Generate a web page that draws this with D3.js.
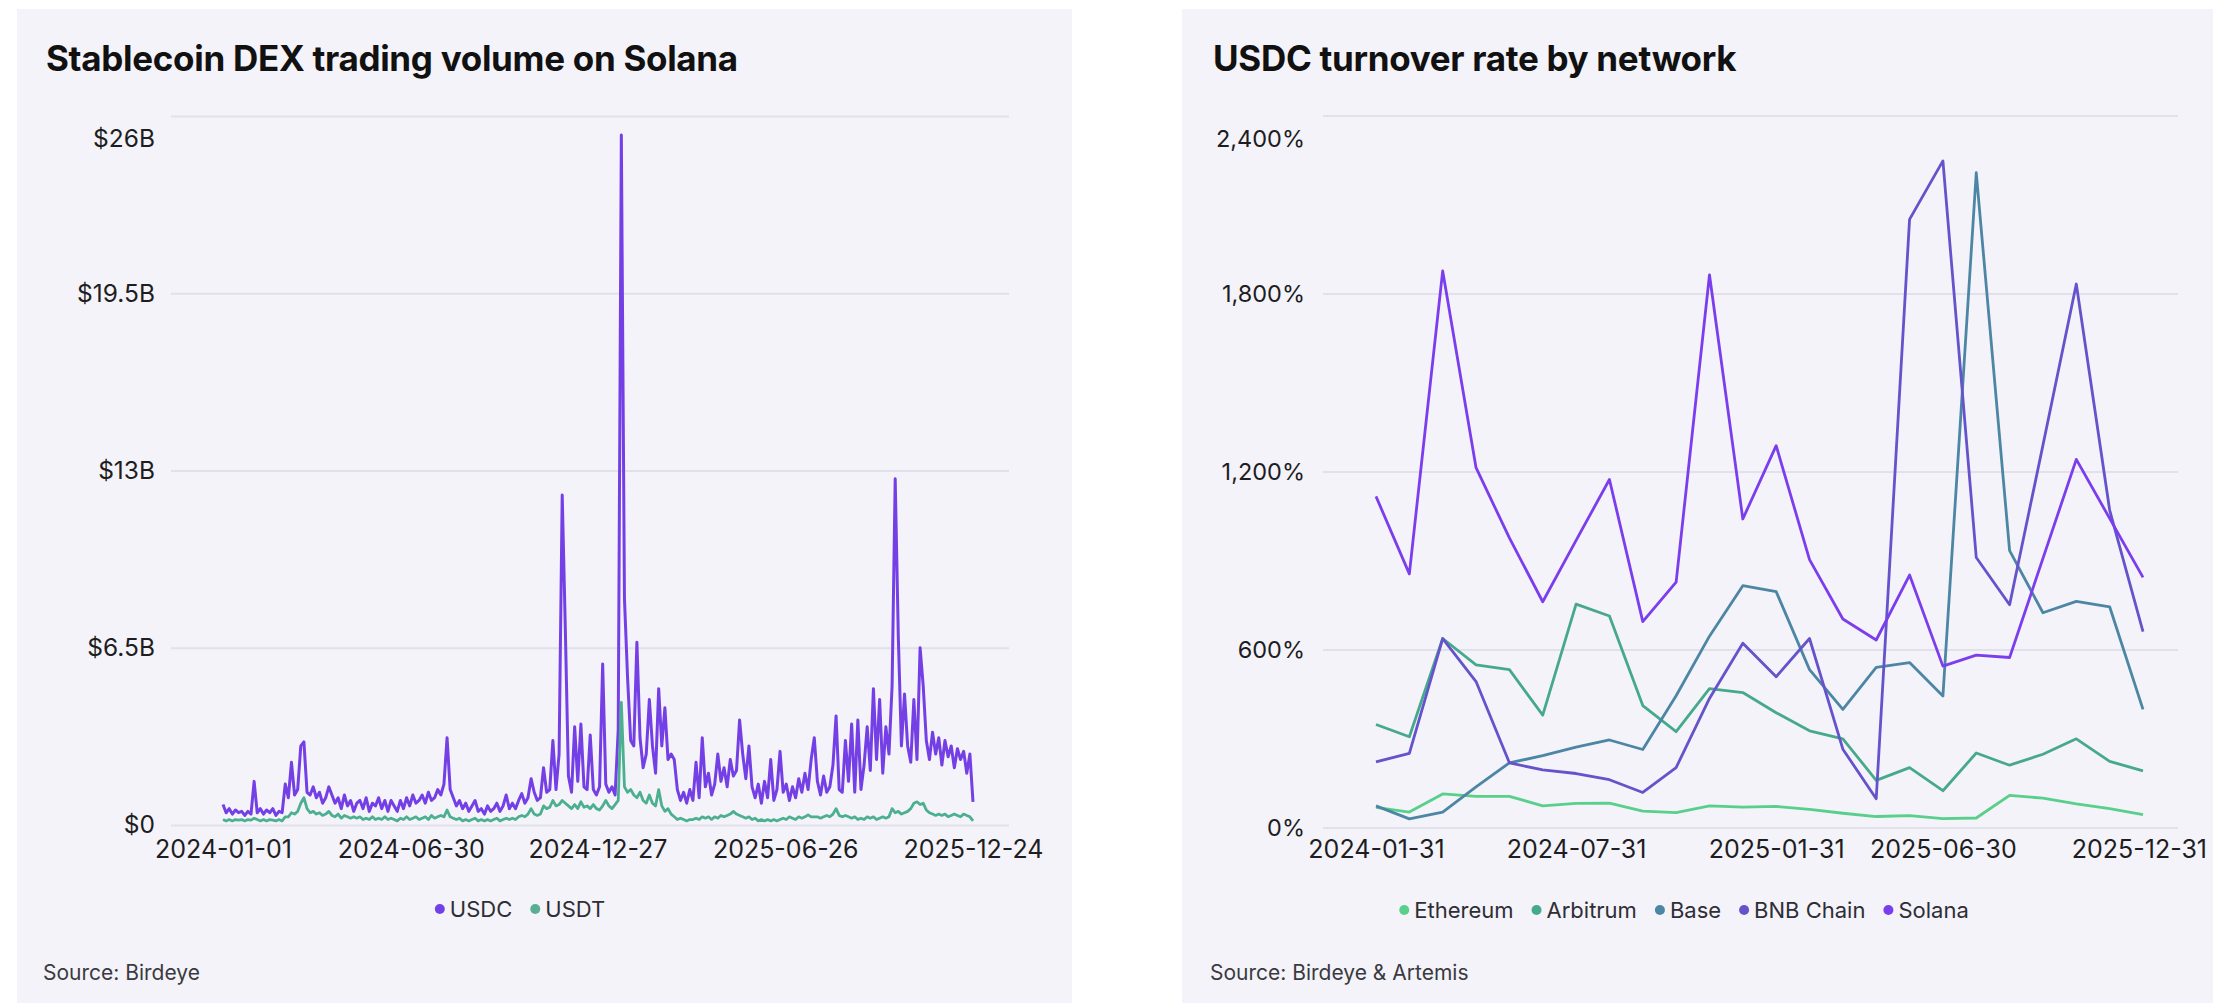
<!DOCTYPE html>
<html><head><meta charset="utf-8">
<script src="https://cdn.jsdelivr.net/npm/d3@7"></script>
<style>
html,body{margin:0;padding:0;background:#fff;}
svg{display:block;font-family:Inter,"Noto Sans",sans-serif;}
</style></head><body>
<svg id="c" width="2213" height="1003"></svg>
<script>
// ---------- Left chart data: Stablecoin DEX trading volume on Solana (USD billions, every 3 days from 2024-01-01)
const volumeStart = "2024-01-01";
const volumeStepDays = 3;
const usdcValues = [
0.75,0.45,0.6,0.4,0.55,0.45,0.5,0.35,0.5,0.4,
1.6,0.45,0.6,0.4,0.55,0.45,0.6,0.35,0.5,0.45,
1.5,1.0,2.3,1.1,1.3,2.9,3.05,1.2,1.1,1.4,
1.0,1.2,0.8,1.0,1.4,1.1,0.8,1.0,0.6,1.1,
0.7,0.9,0.5,0.8,0.9,0.6,1.0,0.5,0.8,0.7,
1.0,0.6,0.9,0.5,0.9,0.7,0.5,0.9,0.6,1.0,
0.7,1.1,0.8,0.9,1.1,0.8,1.2,0.9,1.0,1.3,
1.1,1.5,3.2,1.3,1.0,0.7,0.9,0.6,0.8,0.5,
0.7,0.9,0.5,0.6,0.4,0.7,0.5,0.6,0.8,0.5,
0.7,1.1,0.6,0.8,0.6,0.9,1.15,0.8,1.0,1.7,
1.2,0.9,1.0,2.1,1.2,1.3,3.1,1.3,2.6,12.1,
7.2,1.8,1.2,3.6,1.6,3.7,1.4,1.3,3.3,1.3,
1.1,1.4,5.9,1.5,1.2,1.4,1.1,3.5,25.3,8.3,
5.4,3.1,2.9,6.7,3.2,2.1,2.6,4.6,2.9,1.9,
5.0,2.9,4.3,2.4,2.6,2.4,1.3,0.9,1.2,0.8,
1.3,0.9,2.3,1.0,3.2,1.4,1.9,1.1,1.5,2.6,
1.6,2.1,1.4,2.4,1.8,2.0,3.85,2.6,1.7,2.9,
1.4,1.0,1.5,0.8,1.6,1.0,2.4,0.9,1.3,2.7,
1.2,1.5,0.9,1.4,1.0,1.7,1.2,1.9,1.3,2.4,
3.2,1.6,1.1,1.8,1.2,1.4,2.2,4.0,1.3,1.2,
3.1,1.6,3.7,1.2,3.85,1.3,2.2,3.6,2.0,5.0,
2.4,4.6,1.9,3.6,2.6,5.1,12.7,6.9,2.9,4.8,
2.9,2.3,4.6,2.4,6.5,5.1,3.1,2.4,3.4,2.6,
3.2,2.2,3.1,2.5,2.9,2.1,2.8,2.4,2.7,1.9,
2.6,0.85];
const usdtValues = [
0.2,0.15,0.2,0.15,0.2,0.18,0.2,0.15,0.2,0.18,
0.25,0.2,0.15,0.2,0.15,0.2,0.18,0.15,0.2,0.15,
0.3,0.3,0.45,0.4,0.5,0.8,1.0,0.6,0.45,0.5,
0.4,0.45,0.35,0.4,0.5,0.35,0.3,0.4,0.25,0.35,
0.3,0.25,0.3,0.25,0.3,0.2,0.25,0.2,0.3,0.2,
0.25,0.2,0.3,0.2,0.25,0.2,0.15,0.25,0.2,0.3,
0.2,0.25,0.3,0.2,0.25,0.3,0.2,0.35,0.25,0.3,
0.35,0.3,0.55,0.3,0.25,0.2,0.25,0.15,0.2,0.15,
0.2,0.25,0.15,0.2,0.15,0.2,0.15,0.2,0.25,0.15,
0.2,0.25,0.2,0.25,0.2,0.3,0.35,0.3,0.4,0.6,
0.4,0.35,0.4,0.7,0.6,0.65,0.9,0.7,0.75,0.9,
0.8,0.7,0.6,0.75,0.6,0.85,0.65,0.7,0.6,0.75,
0.6,0.55,0.7,0.9,0.7,0.6,0.75,0.9,4.5,1.4,
1.2,1.3,1.1,1.0,1.2,0.9,0.8,1.1,0.8,0.7,
1.3,0.7,0.5,0.6,0.4,0.3,0.2,0.25,0.2,0.15,
0.2,0.2,0.25,0.2,0.3,0.25,0.3,0.2,0.3,0.25,
0.35,0.3,0.35,0.4,0.5,0.4,0.35,0.3,0.25,0.3,
0.2,0.25,0.15,0.2,0.15,0.2,0.15,0.2,0.15,0.2,
0.25,0.2,0.3,0.25,0.2,0.3,0.25,0.3,0.37,0.3,
0.3,0.3,0.25,0.3,0.35,0.3,0.4,0.6,0.35,0.3,
0.35,0.3,0.25,0.3,0.2,0.25,0.2,0.3,0.25,0.3,
0.2,0.25,0.3,0.25,0.3,0.6,0.45,0.5,0.4,0.45,
0.5,0.6,0.8,0.85,0.75,0.8,0.55,0.45,0.4,0.35,
0.4,0.35,0.4,0.3,0.35,0.4,0.35,0.3,0.4,0.35,
0.3,0.15];
const volumeXTicks = ["2024-01-01","2024-06-30","2024-12-27","2025-06-26","2025-12-24"];
const volumeYTicks = [0, 6.5, 13, 19.5, 26];

// ---------- Right chart data: USDC turnover rate by network (%)
const turnoverMonths = ["2024-01-31","2024-02-29","2024-03-31","2024-04-30","2024-05-31","2024-06-30",
"2024-07-31","2024-08-31","2024-09-30","2024-10-31","2024-11-30","2024-12-31",
"2025-01-31","2025-02-28","2025-03-31","2025-04-30","2025-05-31","2025-06-30",
"2025-07-31","2025-08-31","2025-09-30","2025-10-31","2025-11-30","2025-12-31"];
const ethereum = [68,52,113,105,105,73,81,82,55,50,73,69,71,61,48,37,40,30,32,108,99,80,64,43];
const arbitrum = [347,306,637,548,532,379,753,713,411,323,468,455,387,326,299,159,202,124,251,210,247,299,223,191];
const base = [73,29,52,137,218,242,271,295,263,444,645,815,795,532,398,540,556,443,2207,933,724,762,744,398];
const bnbChain = [221,250,637,492,218,194,182,161,118,202,435,621,508,637,264,97,2050,2247,910,751,1289,1832,1070,660];
const solana = [1116,855,1876,1213,976,761,968,1173,694,827,1863,1040,1287,903,703,632,851,544,581,573,907,1241,1042,843];
const turnoverXTicks = ["2024-01-31","2024-07-31","2025-01-31","2025-06-30","2025-12-31"];
const turnoverYTicks = [0, 600, 1200, 1800, 2400];

const svg = d3.select("#c");
const PANEL = "#f4f3f9", GRID = "#e2e0eb", TXT = "#1d1d22";

svg.append("rect").attr("x",17).attr("y",9).attr("width",1055).attr("height",994).attr("fill",PANEL);
svg.append("rect").attr("x",1182).attr("y",9).attr("width",1031).attr("height",994).attr("fill",PANEL);

function title(x, t){
  svg.append("text").attr("x",x).attr("y",71).text(t)
    .attr("font-size",35).attr("font-weight",700).attr("fill","#111").attr("letter-spacing","-0.3");
}
function source(x, t){
  svg.append("text").attr("x",x).attr("y",980).text(t)
    .attr("font-size",21).attr("fill","#3a3a40");
}
function styleAxis(g, fs){
  g.select(".domain").remove();
  g.selectAll("text").attr("font-size",fs).attr("fill",TXT).attr("font-family","Inter, 'Noto Sans', sans-serif");
}
function legend(items, cx, cy){
  const g = svg.append("g");
  let x = 0;
  items.forEach(it=>{
    g.append("circle").attr("cx",x+5).attr("cy",cy).attr("r",5).attr("fill",it.color);
    const t = g.append("text").attr("x",x+15).attr("y",cy).attr("dy","0.35em").text(it.name)
      .attr("font-size",22).attr("fill","#2e2e34");
    x += 15 + t.node().getComputedTextLength() + 18;
  });
  x -= 18;
  g.attr("transform",`translate(${cx - x/2},0)`);
}

// ================= LEFT CHART =================
title(46, "Stablecoin DEX trading volume on Solana");
const parse = d3.utcParse("%Y-%m-%d");
const fmtDate = d3.utcFormat("%Y-%m-%d");
const x1 = d3.scaleUtc().domain([parse("2024-01-01"), parse("2025-12-24")]).range([223, 973]);
const y1 = d3.scaleLinear().domain([0, 26]).range([825, 116]);

const gy1 = svg.append("g").attr("transform","translate(171,0)")
  .call(d3.axisLeft(y1).tickValues(volumeYTicks).tickSize(-(1009-171)).tickPadding(16)
    .tickFormat(v => v === 0 ? "$0" : "$" + v + "B"));
styleAxis(gy1, 24.5);
gy1.selectAll(".tick line").attr("stroke",GRID).attr("stroke-width",2);
gy1.selectAll(".tick").filter(d => d === 26).select("text").attr("dy","1.25em");

const gx1 = svg.append("g").attr("transform","translate(0,825)")
  .call(d3.axisBottom(x1).tickValues(volumeXTicks.map(parse)).tickSize(0).tickPadding(15).tickFormat(fmtDate));
styleAxis(gx1, 25);

const startDate = parse(volumeStart);
const usdcData = usdcValues.map((v,i)=>({date: d3.utcDay.offset(startDate, i*volumeStepDays), v}));
const usdtData = usdtValues.map((v,i)=>({date: d3.utcDay.offset(startDate, i*volumeStepDays), v}));
const line1 = d3.line().x(d=>x1(d.date)).y(d=>y1(d.v)).curve(d3.curveLinear);
svg.append("path").datum(usdcData).attr("d",line1).attr("fill","none")
  .attr("stroke","#7440e6").attr("stroke-width",3).attr("stroke-linejoin","round");
svg.append("path").datum(usdtData).attr("d",line1).attr("fill","none")
  .attr("stroke","#4caf8f").attr("stroke-width",2.8).attr("stroke-linejoin","round");

legend([{name:"USDC",color:"#7440e6"},{name:"USDT",color:"#5aae94"}], 520, 909);
source(43, "Source: Birdeye");

// ================= RIGHT CHART =================
title(1213, "USDC turnover rate by network");
const x2 = d3.scalePoint().domain(turnoverMonths).range([1376, 2143]);
const y2 = d3.scaleLinear().domain([0, 2400]).range([827.5, 115.5]);

const gy2 = svg.append("g").attr("transform","translate(1323,0)")
  .call(d3.axisLeft(y2).tickValues(turnoverYTicks).tickSize(-(2178-1323)).tickPadding(18)
    .tickFormat(v => d3.format(",")(v) + "%"));
styleAxis(gy2, 23.5);
gy2.selectAll(".tick line").attr("stroke",GRID).attr("stroke-width",2);
gy2.selectAll(".tick").filter(d => d === 2400).select("text").attr("dy","1.3em");

const gx2 = svg.append("g").attr("transform","translate(0,827.5)")
  .call(d3.axisBottom(x2).tickValues(turnoverXTicks).tickSize(0).tickPadding(13));
styleAxis(gx2, 25);
// keep the last label inside the panel
gx2.selectAll(".tick text").each(function(){
  const bb = this.getBBox();
  const tr = this.parentNode.transform.baseVal.consolidate().matrix.e;
  const right = tr + bb.x + bb.width;
  if (right > 2207) d3.select(this).attr("x", 2207 - right);
});

const series = [
  {name:"Ethereum", color:"#58cf8b", values:ethereum},
  {name:"Arbitrum", color:"#47a98b", values:arbitrum},
  {name:"Base", color:"#4c86a4", values:base},
  {name:"BNB Chain", color:"#6553cb", values:bnbChain},
  {name:"Solana", color:"#7b3ded", values:solana}
];
const line2 = d3.line().x((d,i)=>x2(turnoverMonths[i])).y(d=>y2(d));
series.forEach(s=>{
  svg.append("path").datum(s.values).attr("d",line2).attr("fill","none")
    .attr("stroke",s.color).attr("stroke-width",2.8).attr("stroke-linejoin","round");
});
legend(series.map(s=>({name:s.name,color:s.color})), 1684, 910);
source(1210, "Source: Birdeye & Artemis");
</script>
</body></html>
